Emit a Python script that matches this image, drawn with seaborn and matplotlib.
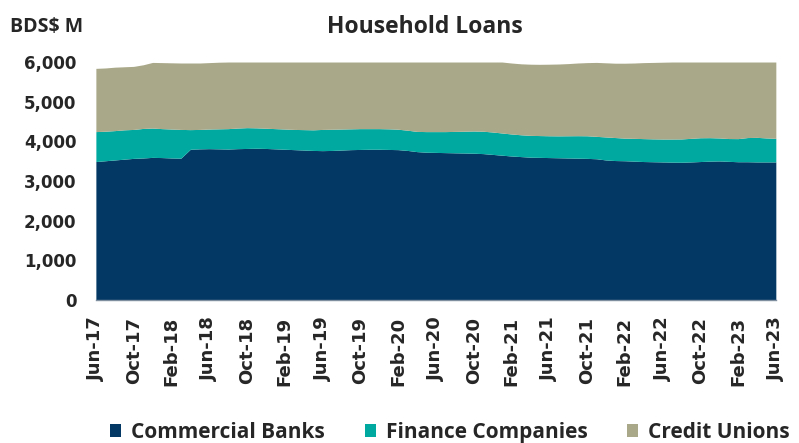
import numpy as np
import pandas as pd
import seaborn as sns
import matplotlib.pyplot as plt
from matplotlib.patches import Patch

# monthly, Jun-17 .. Jun-23 (BDS$ M)
months = pd.date_range("2017-06-01", periods=73, freq="MS").strftime("%b-%y").tolist()
tick_labels = ["Jun-17", "Oct-17", "Feb-18", "Jun-18", "Oct-18", "Feb-19", "Jun-19",
               "Oct-19", "Feb-20", "Jun-20", "Oct-20", "Feb-21", "Jun-21", "Oct-21",
               "Feb-22", "Jun-22", "Oct-22", "Feb-23", "Jun-23"]
series = ["Commercial Banks", "Finance Companies", "Credit Unions"]

commercial_banks = [3490, 3510, 3530, 3550, 3570, 3580, 3595, 3590, 3580, 3575,
                    3800, 3810, 3815, 3810, 3805, 3815, 3820, 3825, 3820, 3810,
                    3800, 3790, 3780, 3770, 3765, 3770, 3780, 3790, 3795, 3800,
                    3800, 3795, 3790, 3770, 3740, 3725, 3720, 3715, 3710, 3705,
                    3700, 3690, 3670, 3650, 3630, 3615, 3600, 3595, 3590, 3585,
                    3580, 3575, 3570, 3560, 3530, 3515, 3510, 3500, 3490, 3485,
                    3480, 3475, 3472, 3480, 3490, 3500, 3505, 3495, 3485, 3485,
                    3480, 3480, 3480]
finance_companies = [755, 745, 740, 740, 730, 745, 740, 730, 730, 725,
                     495, 490, 495, 505, 515, 520, 525, 515, 510, 510,
                     510, 510, 515, 520, 535, 535, 530, 525, 525, 520,
                     520, 520, 515, 510, 510, 520, 525, 530, 540, 550,
                     560, 565, 565, 560, 555, 550, 550, 550, 550, 553,
                     560, 567, 570, 565, 580, 580, 570, 575, 578, 577,
                     578, 583, 588, 595, 600, 592, 580, 575, 583, 610,
                     620, 605, 595]
credit_unions = [1595, 1595, 1600, 1590, 1590, 1605, 1655, 1665, 1670, 1675,
                 1680, 1675, 1675, 1680, 1680, 1665, 1655, 1660, 1670, 1680,
                 1690, 1700, 1705, 1710, 1700, 1695, 1690, 1685, 1680, 1680,
                 1680, 1685, 1695, 1720, 1750, 1755, 1755, 1755, 1750, 1745,
                 1740, 1745, 1765, 1790, 1790, 1790, 1795, 1797, 1805, 1812,
                 1820, 1833, 1845, 1865, 1870, 1875, 1890, 1900, 1917, 1928,
                 1937, 1942, 1940, 1925, 1910, 1908, 1915, 1930, 1932, 1905,
                 1900, 1915, 1925]

colors = ["#033864", "#00a99f", "#a9a888"]

sns.set_theme(style="white")
plt.rcParams["font.family"] = ["DejaVu Sans"]

fig, ax = plt.subplots(figsize=(7.99, 4.43), dpi=100)
fig.subplots_adjust(left=0.120, right=0.971, top=0.860, bottom=0.323)

x = np.arange(len(months))
ax.stackplot(x, commercial_banks, finance_companies, credit_unions,
             colors=colors, linewidth=0)

ax.set_xlim(0, len(months) - 1)
ax.set_ylim(0, 6000)
ax.set_yticks(range(0, 6001, 1000))
ax.set_yticklabels([f"{v:,}" for v in range(0, 6001, 1000)],
                   fontsize=12, fontweight="bold")
ax.set_xticks([months.index(t) for t in tick_labels])
ax.set_xticklabels(tick_labels, rotation=90, fontsize=13, fontweight="bold")
ax.tick_params(axis="y", length=0, pad=14)
ax.tick_params(axis="x", length=0, pad=12)

sns.despine(ax=ax, left=True, top=True, right=True)
ax.spines["bottom"].set_color("#7f8fa0")
ax.spines["bottom"].set_linewidth(1)

fig.text(0.532, 0.939, "Household Loans", ha="center", va="center",
         fontsize=16.5, fontweight="bold", family="Open Sans")
fig.text(0.012, 0.94, "BDS$ M", ha="left", va="center",
         fontsize=14, fontweight="bold", family="Open Sans")

handles = [Patch(facecolor=c, edgecolor="none") for c in colors]
fig.legend(handles, series, loc="center left", bbox_to_anchor=(0.125, 0.024), ncol=3,
           frameon=False, borderpad=0, handlelength=0.53, handleheight=0.53,
           handletextpad=0.48, columnspacing=1.9,
           prop={"family": "Open Sans", "weight": "bold", "size": 15})

fig.savefig("out.png", dpi=100)
